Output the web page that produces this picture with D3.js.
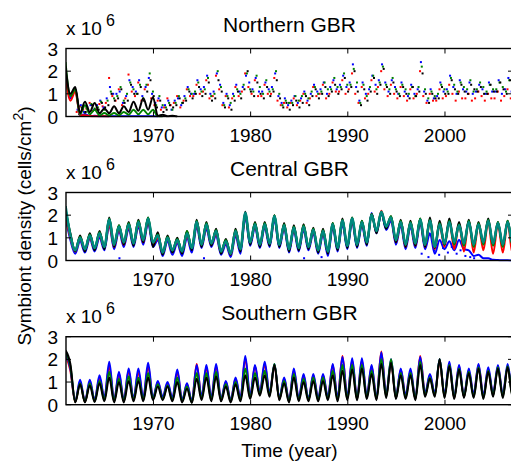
<!DOCTYPE html>
<html>
<head>
<meta charset="utf-8">
<script src="https://cdn.jsdelivr.net/npm/d3@7"></script>
<style>
  body { margin: 0; background: #fff; }
  text { font-family: "Liberation Sans", Arial, Helvetica, sans-serif; fill: #000; }
</style>
</head>
<body>
<div id="chart"></div>
<script>
// half-year samples: first value at 1960.95, then peak (yr+.45) / trough (yr+.95) pairs
const startYear = 1960.95;

// Northern GBR - lines until the populations collapse (~1971)
const nBlackLine = [2.2, 1.0, 1.3, 0.15, 0.65, 0.2, 0.6, 0.15, 0.35, 0.15, 0.45, 0.15, 0.45, 0.2, 0.65, 0.25, 0.8, 0.3, 0.85, 0.03, 0.08, 0.01, 0.03, 0];
const nGreenLine = [2.4, 0.9, 1.2, 0.1, 0.5, 0.1, 0.3, 0.05, 0.15, 0.05, 0.15, 0.05, 0.2, 0.08, 0.3, 0.1, 0.3, 0.1, 0.3, 0.01, 0];
const nBlueLine = [2.0, 0.8, 1.2, 0.05, 0.1, 0.02, 0.03, 0.01, 0.01, 0.01, 0.01, 0.01, 0.01, 0.01, 0.01, 0.01, 0.01, 0.01, 0.01, 0];
const nRedLine = [1.8, 0.7, 1.1, 0.05, 0.05, 0.02, 0.01, 0.01, 0.01, 0];

// Northern GBR - scattered points, three per year from 1962
const dotStart = 1962;
const nRedDots = [.2,.45,.3, .35,.6,.25, .3,.55,.45, .6,1.7,.9, .7,1.2,.5, .8,1.85,1.1, .9,1.5,.7, 1.2,1.4,.8, .5,.7,.3, .4,.8,.5,
  .6,.9,.4, .7,1.2,.9, .9,1.4,1.0, 1.1,1.6,.8, .9,1.8,1.2, .5,.9,.4, .8,1.3,.9, 1.1,1.9,1.3, 1.0,1.6,.9, .9,1.4,1.0,
  1.0,1.7,.7, .5,.6,.4, .6,.8,.5, .7,1.0,.6, .8,1.3,.9, 1.0,1.4,.8, 1.0,1.5,1.1, 1.1,1.6,1.0, 1.2,1.9,1.0, .6,1.3,.8,
  1.0,1.6,1.1, 1.3,2.0,1.2, .9,1.4,1.0, .8,1.3,.9, .7,1.2,.8, 1.0,2.0,.9, .6,1.0,.7, .7,1.2,.8, .9,1.4,1.0, .7,1.1,.8,
  .8,1.0,.7, .8,1.1,.9, .7,1.0,.8, .8,1.1,.7, .9,1.2,.8];
const nBlueDots = [.3,.5,.2, .4,.5,.3, .5,.7,.4, .8,1.3,1.0, 1.0,1.1,.6, .9,1.6,1.3, 1.1,1.6,.9, 1.3,1.7,1.0, .6,.8,.4, .5,.7,.3,
  .7,.8,.5, .9,1.3,1.0, 1.0,1.6,1.2, 1.3,1.8,1.0, 1.1,1.9,1.4, .6,1.0,.5, 1.0,1.4,1.1, 1.3,1.8,1.5, 1.2,1.7,1.1, 1.1,1.5,1.2,
  1.3,1.9,.9, .6,.8,.5, .7,.9,.6, .8,1.1,.7, 1.0,1.4,1.1, 1.2,1.5,1.0, 1.3,1.6,1.2, 1.4,1.8,1.3, 1.5,2.3,1.3, .7,1.5,1.0,
  1.2,1.8,1.4, 1.6,2.3,1.5, 1.1,1.6,1.3, 1.0,1.5,1.1, .9,1.4,1.0, 1.2,2.4,1.1, .7,1.2,.8, .9,1.5,1.1, 1.2,1.8,1.3, 1.0,1.6,1.2,
  1.1,1.5,1.0, 1.1,1.4,1.2, 1.0,1.5,1.1, 1.1,1.6,1.0, 1.2,1.7,1.1];
const nGreenDots = [.25,.4,.15, .3,.55,.35, .4,.65,.3, .7,1.1,.8, .9,1.3,.7, 1.0,1.5,1.2, 1.0,1.4,.8, 1.4,1.9,1.1, .5,.9,.5, .4,.6,.3,
  .6,.9,.6, .8,1.2,1.0, 1.1,1.5,1.1, 1.2,1.7,.9, 1.0,2.0,1.3, .5,.9,.6, .9,1.2,1.0, 1.4,1.9,1.2, 1.1,1.8,1.3, 1.0,1.6,1.1,
  1.2,2.0,1.0, .5,.7,.6, .6,.9,.7, .9,1.0,.8, 1.1,1.3,1.0, 1.1,1.5,1.2, 1.2,1.7,1.3, 1.3,1.9,1.4, 1.4,2.1,1.5, .6,1.4,.9,
  1.3,1.8,1.2, 1.5,2.2,1.4, 1.2,1.7,1.2, 1.0,1.4,1.2, 1.0,1.3,.9, 1.3,2.2,1.2, .8,1.1,.9, 1.0,1.4,1.2, 1.1,1.7,1.4, 1.1,1.5,1.3,
  1.2,1.6,1.1, 1.2,1.5,1.3, 1.1,1.4,1.2, 1.2,1.5,1.3, 1.1,1.6,1.2];
const nBlackDots = [.1,.35,.2, .2,.5,.3, .3,.6,.4, .5,1.0,.7, .8,1.2,.6, .7,1.4,1.0, 1.0,1.3,.7, 1.1,1.6,.9, .4,.7,.2, .3,.5,.4,
  .5,.8,.6, .7,1.1,.8, 1.0,1.3,.9, 1.0,1.5,.7, .8,1.6,1.1, .4,.8,.3, .7,1.1,.8, 1.2,2.0,1.1, .9,1.5,1.0, .8,1.3,.9,
  1.1,1.6,.8, .4,.6,.3, .5,.7,.4, .6,.9,.5, .9,1.2,.8, 1.0,1.3,.9, 1.1,1.4,1.0, 1.2,1.7,1.1, 1.3,2.0,1.1, .5,1.2,.7,
  1.1,1.7,1.0, 1.4,2.1,1.3, 1.0,1.5,1.1, .9,1.3,1.0, .8,1.3,.9, 1.1,1.9,1.0, .6,1.0,.8, .8,1.3,1.0, 1.0,1.6,1.2, 1.0,1.4,1.1,
  1.0,1.4,1.2, 1.1,1.3,1.0, 1.0,1.4,1.1, 1.1,1.5,1.2, 1.0,1.6,1.3];

// Central GBR
const cBlue = [1.9, .9,.3, .85,.35, .95,.4, 1.0,.45, 1.55,.5, 1.3,.6, 1.4,.6, 1.5,.7, 1.65,.6, .9,.2,
  .85,.25, .75,.2, 1.0,.35, 1.5,.55, 1.4,.6, 1.1,.25, .7,.15, 1.1,.3, 1.9,.65, 1.45,.55,
  1.45,.6, 1.8,.55, 1.4,.35, 1.3,.4, 1.35,.45, 1.2,.3, 1.15,.2, 1.45,.4, 1.6,.5, 1.7,.55,
  1.55,.65, 2.1,1.2, 2.1,1.35, 1.75,.7, 1.55,.5, 1.5,.55, 1.65,.5, 1.2,.3, .9,.5, .85,.45,
  .9,.5, .45,.2, .25,.1, .1,.03, .02,.01, .01,0, 0];
const cRed = [2.0, 1.0,.4, .95,.45, 1.0,.5, 1.1,.55, 1.6,.6, 1.4,.7, 1.5,.7, 1.6,.8, 1.75,.7, 1.0,.3,
  .95,.4, .85,.35, 1.1,.5, 1.6,.65, 1.5,.7, 1.2,.35, .8,.25, 1.2,.45, 2.0,.75, 1.55,.65,
  1.55,.7, 1.9,.65, 1.5,.45, 1.4,.5, 1.45,.55, 1.3,.4, 1.25,.35, 1.55,.5, 1.7,.6, 1.8,.65,
  1.65,.75, 2.05,1.25, 2.2,1.45, 1.85,.8, 1.65,.6, 1.6,.65, 1.75,.6, 1.7,.5, 1.55,.6, 1.75,.5,
  1.6,.4, 1.75,.35, 1.6,.45, 1.7,.3, 1.6,.35, 1.65,.3, 1.5];
const cBlack = [2.2, 1.2,.4, 1.1,.4, 1.2,.45, 1.3,.5, 1.9,.6, 1.55,.7, 1.7,.65, 1.8,.8, 1.9,.6, 1.25,.25,
  1.1,.35, 1.0,.3, 1.3,.45, 1.8,.6, 1.7,.65, 1.4,.3, .95,.25, 1.4,.4, 2.15,.7, 1.7,.6,
  1.7,.65, 2.0,.6, 1.65,.4, 1.55,.45, 1.6,.5, 1.45,.35, 1.4,.3, 1.65,.45, 1.85,.55, 1.9,.6,
  1.75,.7, 2.05,1.2, 2.1,1.4, 1.95,.8, 1.8,.6, 1.75,.65, 1.85,.6, 1.9,.55, 1.75,.7, 1.85,.75,
  1.7,.7, 1.8,.65, 1.7,.75, 1.85,.7, 1.7,.65, 1.75,.7, 1.7];
const cGreen = [2.3, 1.15,.45, 1.05,.5, 1.15,.55, 1.25,.6, 1.85,.7, 1.55,.8, 1.65,.75, 1.75,.9, 1.9,.8, 1.15,.35,
  1.05,.45, .95,.4, 1.3,.55, 1.75,.7, 1.65,.75, 1.35,.4, .9,.3, 1.35,.5, 2.1,.8, 1.65,.7,
  1.65,.75, 2.0,.7, 1.6,.5, 1.5,.55, 1.55,.6, 1.4,.45, 1.35,.4, 1.65,.55, 1.8,.65, 1.9,.7,
  1.75,.8, 2.05,1.3, 2.15,1.5, 1.95,.9, 1.75,.7, 1.7,.75, 1.85,.7, 1.8,.6, 1.65,.7, 1.75,.7,
  1.6,.65, 1.75,.6, 1.65,.7, 1.8,.65, 1.7,.6, 1.75,.65, 1.6];
const cTeal = [2.4, 1.1,.45, 1.0,.5, 1.1,.55, 1.2,.6, 1.8,.7, 1.5,.8, 1.6,.75, 1.7,.9, 1.85,.8, 1.1,.35,
  1.0,.45, .9,.4, 1.2,.55, 1.7,.7, 1.6,.75, 1.3,.4, .85,.3, 1.3,.5, 2.1,.8, 1.6,.7,
  1.6,.75, 1.95,.7, 1.55,.5, 1.45,.55, 1.5,.6, 1.35,.45, 1.3,.4, 1.6,.55, 1.75,.65, 1.85,.7,
  1.7,.8, 2.0,1.3, 2.15,1.5, 1.9,.9, 1.7,.7, 1.65,.75, 1.8,.7, 1.75,.6, 1.6,.75, 1.7,.8,
  1.55,.75, 1.7,.7, 1.6,.8, 1.75,.75, 1.65,.7, 1.7,.75, 1.6];
// Central GBR - stray blue points after the bleaching collapse
const cDotYears = [1966.5, 1975.2, 1985.5, 1987.3, 1997.6, 1998.3, 1998.9, 1999.4, 1999.8, 2000.3, 2000.7, 2001.2, 2001.6, 2002.1, 2002.6, 2003.0];
const cDotValues = [0.1, 0.1, 0.1, 0.15, 0.3, 0.15, 0.45, 0.25, 0.55, 0.35, 0.6, 0.3, 0.45, 0.2, 0.15, 0.1];

// Southern GBR
const sRed = [2.2, 1.5,.12, 1.0,.12, 1.0,.18, 1.2,.25, 1.7,.18, 1.35,.18, 1.5,.2, 1.45,.25, 1.7,.25, 1.0,.3,
  .95,.25, 1.45,.18, .9,.12, 1.8,.3, 1.65,.25, 1.7,.2, 1.0,.18, 1.15,.25, 2.05,.35, 1.7,.5,
  1.8,.45, 1.75,.25, 1.15,.18, 1.5,.25, 1.3,.2, 1.3,.25, 1.3,.3, 1.75,.25, 2.15,.3, 1.95,.25,
  1.95,.35, 1.7,.25, 2.35,.4, 1.9,.3, 1.55,.35, 1.5,.25, 2.15,.45, 1.3,.45, 1.9,.4, 1.8,.3,
  1.7,.35, 1.5,.4, 1.75,.35, 1.55,.45, 1.7,.4, 1.7,.45, 1.6];
const sBlue = [2.3, 1.6,.15, 1.1,.15, 1.1,.2, 1.3,.3, 1.9,.2, 1.45,.2, 1.6,.25, 1.6,.3, 1.85,.3, 1.05,.35,
  1.0,.3, 1.55,.2, .95,.15, 1.75,.35, 1.75,.3, 1.8,.25, 1.05,.2, 1.2,.3, 2.15,.4, 1.75,.55,
  1.9,.5, 1.8,.3, 1.2,.2, 1.6,.3, 1.35,.25, 1.35,.3, 1.35,.35, 1.8,.3, 2.1,.35, 2.05,.3,
  2.05,.4, 1.75,.3, 2.3,.45, 2.0,.35, 1.6,.4, 1.6,.3, 2.1,.5, 1.35,.5, 2.0,.45, 1.9,.35,
  1.75,.4, 1.6,.45, 1.8,.4, 1.65,.5, 1.75,.45, 1.8,.5, 1.7];
const sGreen = [2.35, 1.7,.12, .95,.12, .95,.15, 1.05,.2, 1.45,.15, 1.15,.15, 1.25,.2, 1.2,.2, 1.4,.25, .9,.25,
  .85,.2, 1.2,.15, .8,.1, 1.4,.25, 1.4,.2, 1.45,.2, .9,.15, 1.0,.2, 1.6,.3, 1.4,.45,
  1.5,.4, 1.8,.25, 1.05,.15, 1.35,.2, 1.15,.2, 1.2,.2, 1.2,.25, 1.5,.2, 1.75,.25, 1.75,.25,
  1.75,.3, 1.5,.25, 2.0,.35, 2.0,.3, 1.4,.3, 1.4,.25, 1.9,.4, 1.2,.4, 2.0,.35, 1.75,.3,
  1.6,.35, 1.45,.35, 1.65,.3, 1.5,.4, 1.65,.35, 1.7,.4, 1.6];
const sBlack = [2.4, 1.8,.1, .9,.1, .85,.12, .95,.15, 1.2,.1, 1.0,.1, 1.05,.15, 1.05,.15, 1.2,.2, .8,.2,
  .8,.15, 1.0,.1, .7,.08, 1.15,.2, 1.2,.15, 1.25,.15, .8,.1, .9,.15, 1.3,.25, 1.2,.4,
  1.3,.35, 1.75,.2, .95,.1, 1.2,.15, 1.0,.15, 1.05,.15, 1.05,.2, 1.3,.15, 1.5,.2, 1.55,.2,
  1.6,.25, 1.35,.2, 1.8,.3, 1.85,.25, 1.3,.25, 1.3,.2, 1.75,.35, 1.15,.35, 2.0,.3, 1.7,.25,
  1.55,.3, 1.4,.3, 1.6,.25, 1.45,.35, 1.6,.3, 1.65,.35, 1.55];

const yTicks = [0, 1, 2, 3];
const xTicks = [1970, 1980, 1990, 2000];
const titles = ["Northern GBR", "Central GBR", "Southern GBR"];

const BLUE = "#0000ff", RED = "#ff0000", GREEN = "#008000", BLACK = "#000000", TEAL = "#00897f";

const panels = [
  { title: titles[0], top: 48.5,
    lines: [[nBlueLine, BLUE], [nRedLine, RED], [nGreenLine, GREEN], [nBlackLine, BLACK]],
    // each colour sampled at a slightly different time of year
    dots: [[nRedDots, RED, 0], [nBlueDots, BLUE, 0.09], [nGreenDots, GREEN, 0.18], [nBlackDots, BLACK, 0.26]] },
  { title: titles[1], top: 192.5,
    lines: [[cBlue, BLUE], [cRed, RED], [cBlack, BLACK], [cGreen, GREEN], [cTeal, TEAL]],
    dots: [] },
  { title: titles[2], top: 336.7,
    lines: [[sRed, RED], [sBlue, BLUE], [sGreen, GREEN], [sBlack, BLACK]],
    dots: [] }
];

const W = 511, H = 466;
const left = 66, right = 513, ph = 68;

const svg = d3.select("#chart").append("svg")
  .attr("width", W).attr("height", H);

const x = d3.scaleLinear().domain([1961, 2007]).range([left, right]);

panels.forEach((p, k) => {
  const y = d3.scaleLinear().domain([0, 3]).range([p.top + ph, p.top]);
  const g = svg.append("g");

  const clipId = "clip" + k;
  svg.append("clipPath").attr("id", clipId)
    .append("rect").attr("x", left).attr("y", p.top - 2).attr("width", right - left).attr("height", ph + 3);

  const plot = g.append("g").attr("clip-path", `url(#${clipId})`);

  // dots
  p.dots.forEach(([vals, col, off]) => {
    plot.append("g").selectAll("rect")
      .data(vals)
      .enter().append("rect")
      .attr("x", (d, i) => x(dotStart + off + (i + 0.3) / 3) - 1)
      .attr("y", d => y(d) - 1)
      .attr("width", 2).attr("height", 2)
      .attr("fill", col);
  });

  if (k === 1) {
    plot.append("g").selectAll("rect")
      .data(cDotYears)
      .enter().append("rect")
      .attr("x", d => x(d) - 1)
      .attr("y", (d, i) => y(cDotValues[i]) - 1)
      .attr("width", 2).attr("height", 2)
      .attr("fill", BLUE);
  }

  // lines
  const line = d3.line()
    .x((d, i) => x(startYear + 0.5 * i))
    .y(d => y(d))
    .curve(d3.curveMonotoneX);

  p.lines.forEach(([vals, col]) => {
    plot.append("path")
      .attr("d", line(vals))
      .attr("fill", "none")
      .attr("stroke", col)
      .attr("stroke-width", col === TEAL ? 2.6 : 2)
      .attr("stroke-linejoin", "round");
  });

  // frame
  g.append("rect")
    .attr("x", left).attr("y", p.top)
    .attr("width", right - left).attr("height", ph)
    .attr("fill", "none").attr("stroke", "#000").attr("stroke-width", 1.4);

  // ticks (inside, MATLAB style)
  const tl = 5;
  xTicks.forEach(t => {
    g.append("line").attr("x1", x(t)).attr("x2", x(t))
      .attr("y1", p.top + ph).attr("y2", p.top + ph - tl).attr("stroke", "#000");
    g.append("line").attr("x1", x(t)).attr("x2", x(t))
      .attr("y1", p.top).attr("y2", p.top + tl).attr("stroke", "#000");
    g.append("text").attr("x", x(t)).attr("y", p.top + ph + 25)
      .attr("text-anchor", "middle").attr("font-size", 19).text(t);
  });
  yTicks.forEach(t => {
    g.append("line").attr("x1", left).attr("x2", left + tl)
      .attr("y1", y(t)).attr("y2", y(t)).attr("stroke", "#000");
    g.append("line").attr("x1", right).attr("x2", right - tl)
      .attr("y1", y(t)).attr("y2", y(t)).attr("stroke", "#000");
    g.append("text").attr("x", 58).attr("y", y(t) + 7)
      .attr("text-anchor", "end").attr("font-size", 19).text(t);
  });

  // exponent label
  g.append("text").attr("x", 66).attr("y", p.top - 13.5)
    .attr("font-size", 19).text("x 10");
  g.append("text").attr("x", 106).attr("y", p.top - 23)
    .attr("font-size", 16).text("6");

  // title
  g.append("text").attr("x", (left + right) / 2).attr("y", p.top - 17)
    .attr("text-anchor", "middle").attr("font-size", 21).text(p.title);
});

// axis labels
svg.append("text").attr("x", (left + right) / 2).attr("y", 457)
  .attr("text-anchor", "middle").attr("font-size", 19).text("Time (year)");

const yl = svg.append("text")
  .attr("transform", "translate(31,226) rotate(-90)")
  .attr("text-anchor", "middle").attr("font-size", 19);
yl.append("tspan").text("Symbiont density (cells/cm");
yl.append("tspan").attr("font-size", 14).attr("dy", -8).text("2");
yl.append("tspan").attr("dy", 8).text(")");
</script>
</body>
</html>
